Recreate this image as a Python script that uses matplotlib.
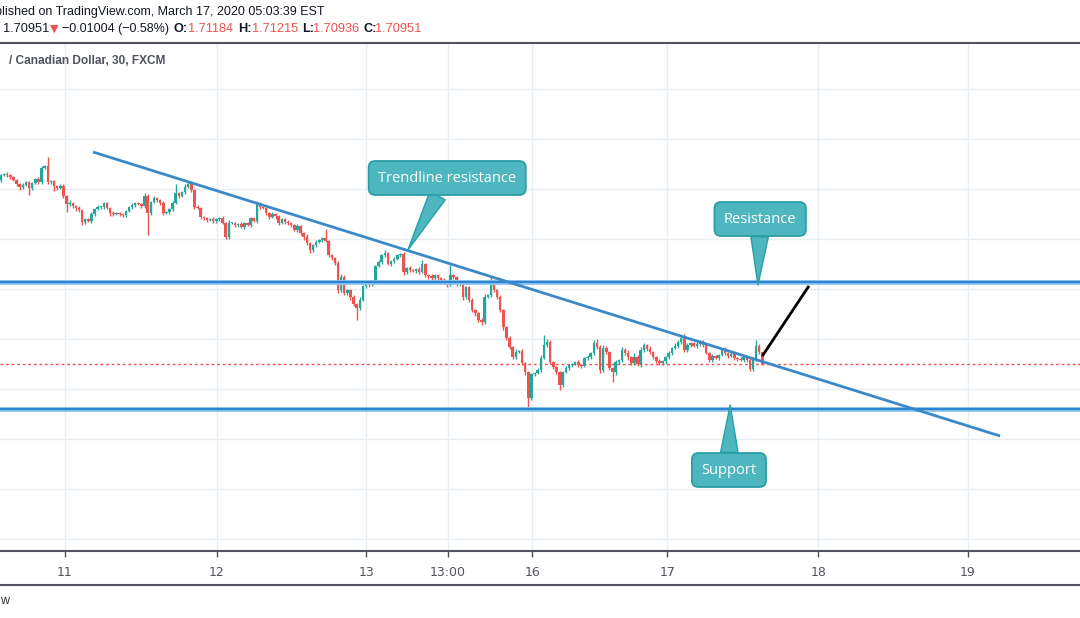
import matplotlib
matplotlib.use("Agg")
import matplotlib.pyplot as plt
from matplotlib.lines import Line2D
import numpy as np

# GBP/CAD 30 min closes (open = previous close)
first_open = 1.7463
closes = [
    1.7473, 1.7475, 1.7473, 1.7469, 1.7463, 1.7455, 1.7449, 1.7453, 1.7459, 1.7447,
    1.7457, 1.7465, 1.7459, 1.7487, 1.7491, 1.7459, 1.7461, 1.7451, 1.7447, 1.7451,
    1.7431, 1.7415, 1.7417, 1.7411, 1.7407, 1.7403, 1.7379, 1.7385, 1.7381, 1.7395,
    1.7405, 1.7409, 1.7409, 1.7417, 1.7407, 1.7397, 1.7395, 1.7397, 1.7395, 1.7393,
    1.7401, 1.7409, 1.7413, 1.7417, 1.7415, 1.7411, 1.7431, 1.7397, 1.7419, 1.7427,
    1.7423, 1.7417, 1.7397, 1.7399, 1.7405, 1.7417, 1.7437, 1.7431, 1.7439, 1.7449,
    1.7455, 1.7443, 1.7409, 1.7407, 1.7389, 1.7387, 1.7383, 1.7385, 1.7381, 1.7385,
    1.7387, 1.7377, 1.7349, 1.7377, 1.7377, 1.7373, 1.7375, 1.7369, 1.7377, 1.7373,
    1.7387, 1.7381, 1.7417, 1.7409, 1.7407, 1.7397, 1.7389, 1.7395, 1.7391, 1.7377,
    1.7385, 1.7379, 1.7377, 1.7373, 1.7363, 1.7371, 1.7357, 1.7349, 1.7337, 1.7323,
    1.7333, 1.7339, 1.7343, 1.7347, 1.7341, 1.7313, 1.7307, 1.7297, 1.7243, 1.7269,
    1.7237, 1.7243, 1.7229, 1.7215, 1.7207, 1.7223, 1.7251, 1.7257, 1.7253, 1.7261,
    1.7291, 1.7299, 1.7313, 1.7317, 1.7295, 1.7301, 1.7305, 1.7313, 1.7315, 1.7279,
    1.7287, 1.7283, 1.7281, 1.7285, 1.7279, 1.7295, 1.7273, 1.7271, 1.7267, 1.7273,
    1.7267, 1.7263, 1.7257, 1.7253, 1.7273, 1.7269, 1.7255, 1.7257, 1.7229, 1.7249,
    1.7223, 1.7203, 1.7197, 1.7183, 1.7179, 1.7229, 1.7233, 1.7263, 1.7243, 1.7229,
    1.7203, 1.7169, 1.7147, 1.7129, 1.7109, 1.7119, 1.7121, 1.7097, 1.7079, 1.7027,
    1.7075, 1.7077, 1.7083, 1.7107, 1.7133, 1.7139, 1.7099, 1.7089, 1.7079, 1.7053,
    1.7079, 1.7087, 1.7093, 1.7095, 1.7099, 1.7093, 1.7091, 1.7107, 1.7109, 1.7117,
    1.7137, 1.7129, 1.7083, 1.7127, 1.7119, 1.7087, 1.7079, 1.7099, 1.7103, 1.7123,
    1.7117, 1.7109, 1.7097, 1.7109, 1.7095, 1.7123, 1.7133, 1.7125, 1.7119, 1.7109,
    1.7101, 1.7097, 1.7101, 1.7109, 1.7117, 1.7127, 1.7131, 1.7139, 1.7147, 1.7123,
    1.7133, 1.7137, 1.7131, 1.7135, 1.7141, 1.7133, 1.7117, 1.7103, 1.7111, 1.7107,
    1.7113, 1.7123, 1.7117, 1.7111, 1.7115, 1.7107, 1.7105, 1.7103, 1.7109, 1.7103,
    1.7085, 1.7103, 1.7131, 1.71184, 1.70951,
]
# wick lengths in pips above / below the body
wick_up = [
    3, 2, 4, 2, 3, 2, 3, 4, 2, 3,
    3, 2, 4, 4, 3, 18, 3, 2, 3, 4,
    4, 3, 6, 3, 2, 4, 3, 2, 3, 4,
    2, 4, 3, 2, 3, 2, 4, 3, 2, 3,
    3, 2, 4, 3, 2, 3, 6, 4, 3, 5,
    3, 2, 4, 3, 2, 4, 18, 3, 2, 6,
    4, 3, 2, 4, 3, 2, 3, 2, 4, 3,
    3, 4, 2, 6, 3, 2, 3, 4, 2, 3,
    3, 2, 4, 3, 2, 3, 2, 4, 3, 2,
    3, 2, 4, 3, 2, 4, 3, 2, 6, 3,
    3, 4, 3, 2, 18, 3, 2, 3, 4, 6,
    4, 3, 2, 4, 3, 6, 3, 2, 4, 3,
    3, 4, 3, 6, 3, 2, 4, 3, 2, 4,
    3, 4, 2, 3, 4, 8, 3, 2, 4, 3,
    3, 2, 4, 3, 20, 3, 2, 4, 3, 2,
    3, 4, 2, 3, 4, 6, 3, 6, 3, 2,
    4, 3, 2, 4, 3, 6, 3, 4, 3, 2,
    3, 2, 4, 6, 20, 6, 4, 3, 2, 3,
    3, 4, 3, 2, 3, 4, 2, 3, 4, 3,
    6, 8, 4, 6, 4, 3, 3, 4, 3, 6,
    4, 6, 3, 8, 4, 6, 4, 3, 6, 3,
    3, 4, 3, 2, 4, 3, 6, 4, 3, 8,
    4, 3, 2, 4, 3, 2, 3, 2, 4, 3,
    3, 4, 6, 3, 4, 2, 3, 4, 3, 2,
    4, 6, 12, 4, 1,
]
wick_dn = [
    3, 2, 3, 4, 2, 3, 6, 3, 2, 14,
    3, 2, 4, 3, 2, 4, 3, 10, 3, 2,
    3, 16, 3, 4, 6, 3, 6, 3, 2, 3,
    3, 2, 4, 3, 2, 6, 3, 2, 4, 3,
    3, 2, 4, 3, 2, 3, 4, 44, 3, 2,
    3, 4, 3, 2, 4, 3, 2, 3, 2, 3,
    2, 3, 4, 2, 3, 4, 3, 2, 3, 4,
    3, 2, 4, 3, 2, 4, 3, 2, 3, 2,
    3, 2, 4, 3, 2, 4, 3, 2, 6, 3,
    2, 3, 4, 3, 2, 4, 3, 6, 4, 6,
    4, 3, 2, 3, 2, 3, 4, 3, 6, 3,
    4, 3, 6, 4, 24, 3, 2, 4, 3, 2,
    3, 2, 4, 3, 2, 4, 3, 2, 3, 6,
    4, 3, 2, 4, 3, 2, 3, 6, 4, 3,
    3, 4, 2, 3, 2, 3, 4, 3, 6, 3,
    4, 3, 6, 4, 6, 3, 2, 4, 3, 4,
    3, 6, 4, 3, 4, 3, 2, 4, 6, 18,
    4, 3, 2, 3, 2, 3, 4, 3, 4, 10,
    3, 2, 4, 3, 2, 4, 3, 2, 3, 4,
    3, 4, 6, 3, 4, 4, 20, 6, 4, 3,
    4, 6, 3, 4, 3, 6, 3, 4, 3, 4,
    3, 4, 3, 6, 4, 3, 2, 4, 3, 4,
    3, 4, 2, 3, 4, 3, 2, 4, 3, 2,
    3, 2, 4, 3, 2, 4, 3, 2, 4, 3,
    3, 4, 2, 4, 2,
]

day_ticks = [20.5, 69.2, 117.0, 143.3, 170.2, 213.5, 261.9, 309.9]
day_labels = ["11", "12", "13", "13:00", "16", "17", "18", "19"]

resistance = 1.7259
support = 1.7005
trend_x = [29.5, 320.2]
trend_y = [1.7519, 1.6951]
breakout_x = [244.2, 258.7]
breakout_y = [1.7113, 1.7249]
last_close = 1.70951

UP = "#26a69a"
DOWN = "#ef5350"
TEAL = "#4db6bf"
TEAL_EDGE = "#2a9ea7"
BLUE = "#3b89c9"
GRID = "#e6eef4"
AXIS = "#50535e"
TXT = "#131722"
HEAD_FONT = ["Liberation Sans", "DejaVu Sans"]

W, H = 1080, 618
fig = plt.figure(figsize=(W / 100, H / 100), dpi=100)
fig.patch.set_facecolor("white")

top_px, bot_px = 43, 551
ax = fig.add_axes([0, 1 - bot_px / H, 1, (bot_px - top_px) / H])
ax.set_xlim(-0.32, 345.8)
ax.set_ylim(1.6721, 1.7737)

# grid
ax.set_yticks(np.arange(1.6745, 1.77, 0.01))
ax.set_xticks(day_ticks)
ax.set_xticklabels(day_labels)
ax.grid(True, color=GRID, lw=1)
ax.set_axisbelow(True)
ax.tick_params(axis="y", left=False, labelleft=False)
ax.tick_params(axis="x", direction="out", length=4, width=1, color=AXIS,
               labelcolor=AXIS, labelsize=9, pad=7)
for lab in ax.get_xticklabels():
    lab.set_family(["Liberation Sans Narrow", "DejaVu Sans"])
for s in ["left", "right"]:
    ax.spines[s].set_visible(False)
ax.spines["bottom"].set_color(AXIS)
ax.spines["bottom"].set_linewidth(1.5)
ax.spines["top"].set_color(AXIS)
ax.spines["top"].set_linewidth(1.5)

# candles
c = np.array(closes)
o = np.array([first_open] + closes[:-1])
x = np.arange(len(c))
hi = np.maximum(o, c) + np.array(wick_up) / 10000
lo = np.minimum(o, c) - np.array(wick_dn) / 10000
col = np.where(c >= o, UP, DOWN)
ax.vlines(x, lo, hi, colors=col, lw=1, zorder=3)
ax.bar(x, np.maximum(np.abs(c - o), 0.0002), bottom=np.minimum(o, c),
       width=0.8, color=col, lw=0, zorder=4)

# levels and lines
ax.axhline(last_close, color=DOWN, lw=1, ls=(0, (2, 2)), zorder=2)
for lvl in [resistance, support]:
    ax.axhline(lvl, color="#90c4ef", lw=3.5, zorder=5)
    ax.axhline(lvl, color="#2b84d3", lw=1.6, zorder=6)
ax.plot(trend_x, trend_y, color=BLUE, lw=2, zorder=6, solid_capstyle="butt")
ax.plot(breakout_x, breakout_y, color="black", lw=2, zorder=7)

# callouts
def callout(text, tip, anchor):
    ax.annotate(text, xy=tip, xytext=anchor, ha="center", va="center",
                color="white", fontsize=10.5, family=["Open Sans", "DejaVu Sans"],
                zorder=8,
                bbox=dict(boxstyle="round,pad=0.65,rounding_size=0.45",
                          fc=TEAL, ec=TEAL_EDGE, lw=1.3),
                arrowprops=dict(arrowstyle="wedge,tail_width=1.2,shrink_factor=0.5",
                                fc=TEAL, ec=TEAL_EDGE, lw=1.0, shrinkA=0, shrinkB=0))

callout("Trendline resistance", (130.4, 1.7323), (143.0, 1.7467))
callout("Resistance", (242.6, 1.7253), (243.3, 1.7385))
callout("Support", (233.7, 1.7013), (233.3, 1.6883))

# header
def ftext(px, py, s, **kw):
    kw.setdefault("family", HEAD_FONT)
    kw.setdefault("fontsize", 9.2)
    kw.setdefault("color", TXT)
    kw.setdefault("va", "center")
    fig.text(px / W, 1 - py / H, s, **kw)

ftext(-5, 12, "blished on TradingView.com, March 17, 2020 05:03:39 EST", fontsize=9.0)
ftext(3, 29, "1.70951")
ftext(50, 29, "\u25bc", color=DOWN, fontsize=8, family=["DejaVu Sans"])
ftext(62, 29, "\u22120.01004 (\u22120.58%)", fontsize=9)
for lx, lab, vx, val in [(174, "O:", 188, "1.71184"), (238, "H:", 252, "1.71215"),
                         (302, "L:", 313, "1.70936"), (363, "C:", 375, "1.70951")]:
    ftext(lx, 29, lab, fontweight="bold")
    ftext(vx, 29, val, color=DOWN)
ftext(9, 61, "/ Canadian Dollar, 30, FXCM", fontsize=8.6, fontweight="bold",
      color="#50535e")

fig.add_artist(Line2D([0, 1], [1 - 585 / H] * 2, color=AXIS, lw=1.5))
ftext(0, 601, "w", fontsize=9, color="#333333")

fig.savefig("out.png", dpi=100, facecolor="white")
